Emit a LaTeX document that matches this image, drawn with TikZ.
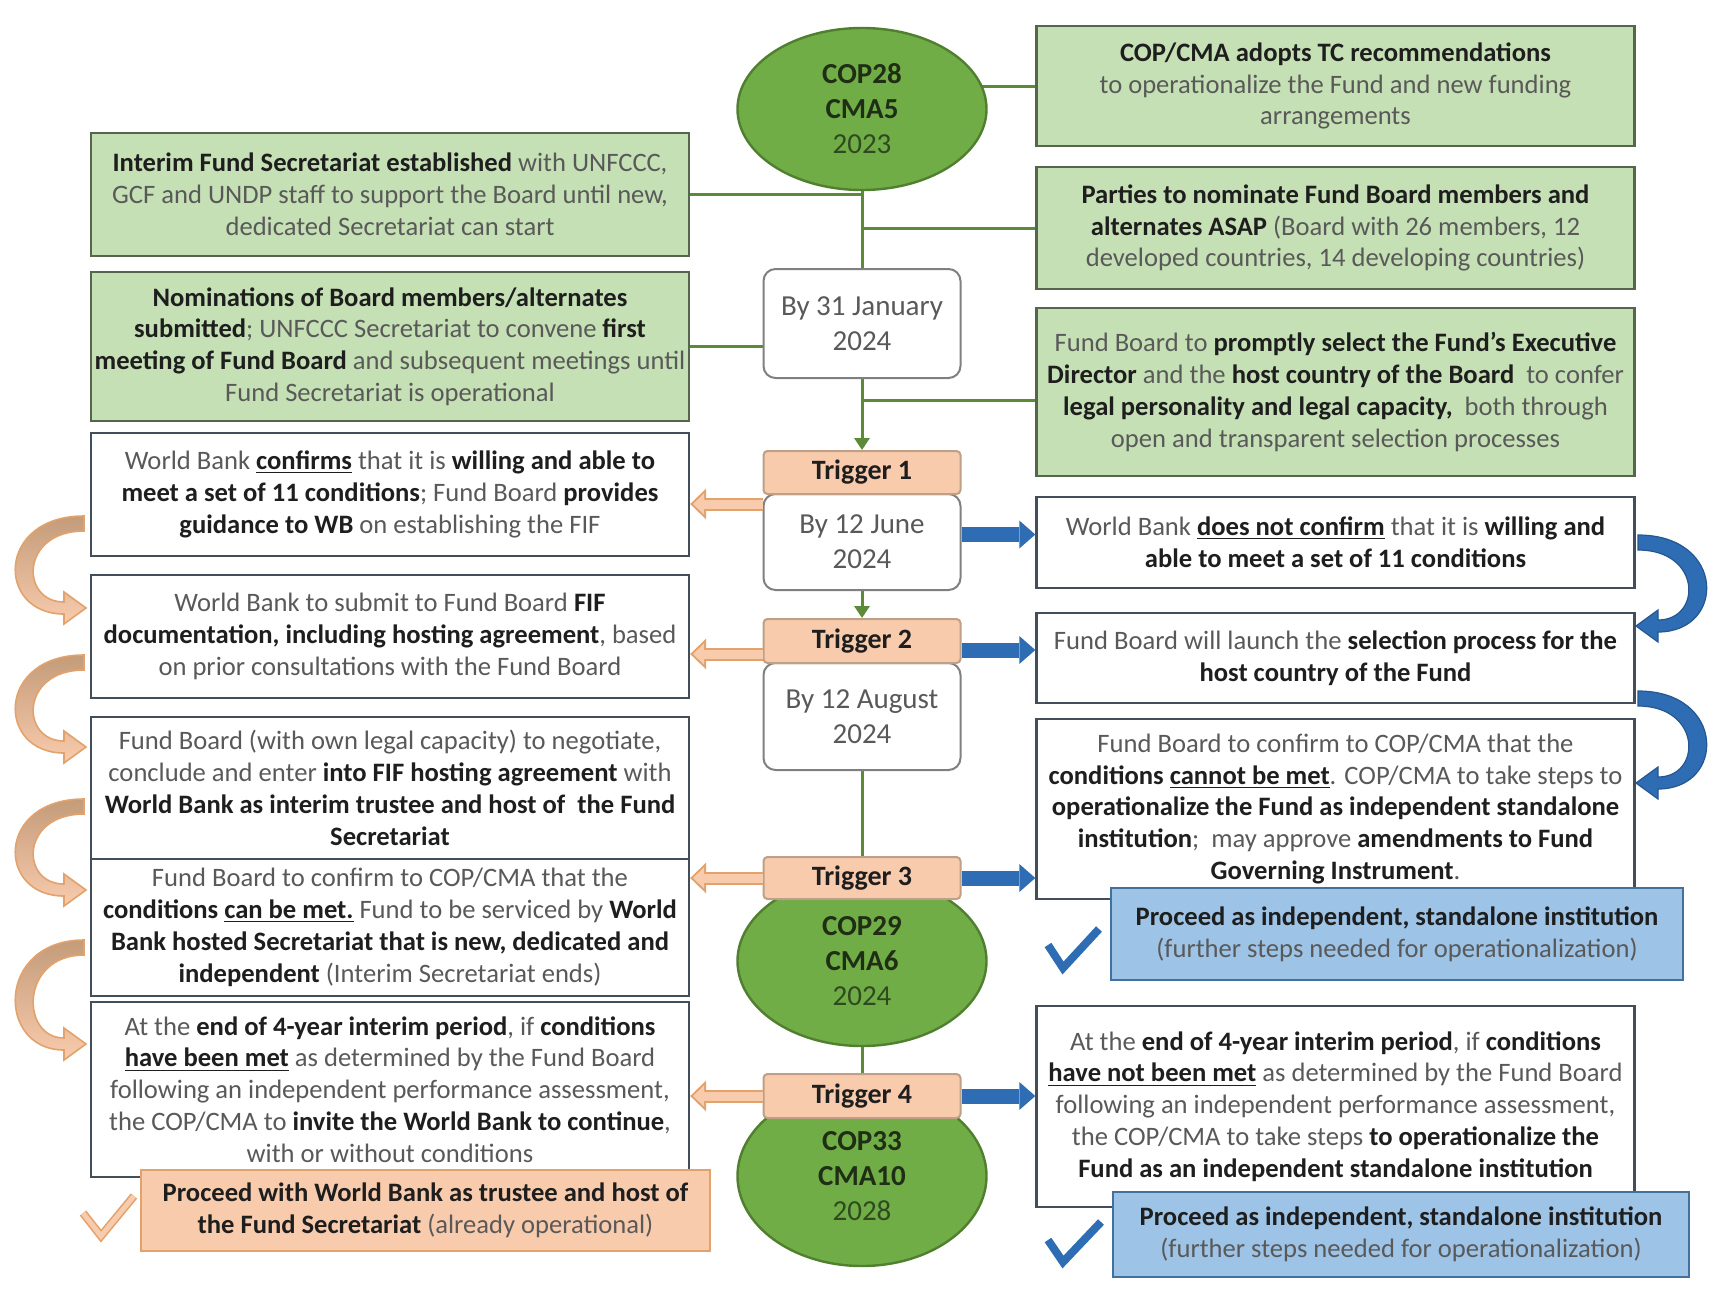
\documentclass[tikz,border=0pt]{standalone}
\usepackage{fontspec}
\setmainfont{Carlito}
\usetikzlibrary{arrows.meta,backgrounds,shapes.geometric,positioning,calc}

\definecolor{lightgreen}{HTML}{C5E0B4}
\definecolor{boxgreen}{HTML}{56664C}
\definecolor{copfill}{HTML}{70AD47}
\definecolor{copline}{HTML}{4F7F2F}
\definecolor{linkgreen}{HTML}{5B8A38}
\definecolor{peach}{HTML}{F8CBAD}
\definecolor{peachline}{HTML}{BF9F86}
\definecolor{orangeline}{HTML}{E2A26C}
\definecolor{tan}{HTML}{C49C7A}
\definecolor{plainline}{HTML}{424E5A}
\definecolor{dateline}{HTML}{808080}
\definecolor{skyblue}{HTML}{9DC3E6}
\definecolor{skyline}{HTML}{41719C}
\definecolor{arrowblue}{HTML}{2E6DB4}
\definecolor{textgray}{HTML}{595959}
\definecolor{textdark}{HTML}{1E1E1E}
\definecolor{copdark}{HTML}{1F2E14}
\definecolor{copyear}{HTML}{2E4A1E}

\newcommand{\bd}[1]{\textbf{\color{textdark}#1}}
% curved ribbon arrow: style, x, y, height, mirror
\newcommand{\bendarrow}[5]{%
  \draw[#1, shift={(#2,#3)}, xscale=#5] (0,0) -- (0,15)
    .. controls (-64,15) and (-64,#4-6) .. (-20,#4-6) -- (-20,#4-16) -- (2,#4)
    -- (-20,#4+16) -- (-20,#4+6) .. controls (-88,#4+6) and (-88,0) .. (0,0) -- cycle;}
\newcommand{\backarrow}[2]{\draw[goleftout] #1 -- #2; \draw[goleftin] #1 -- #2;}

\begin{document}
\begin{tikzpicture}[x=0.5pt,y=-0.5pt,font=\fontsize{13.3}{15.9}\selectfont,text=textgray]
    \tikzstyle{greenbox}=[draw=boxgreen, line width=1.2pt, fill=lightgreen, align=center, minimum width=299pt, inner sep=1pt]
    \tikzstyle{plainbox}=[greenbox, draw=plainline, fill=white]
    \tikzstyle{bluebox}=[greenbox, draw=skyline, fill=skyblue]
    \tikzstyle{peachbox}=[greenbox, draw=orangeline, fill=peach]
    \tikzstyle{datebox}=[draw=dateline, line width=1pt, fill=white, rounded corners=6pt, minimum width=98.5pt, align=center, font=\fontsize{14.5}{17.5}\selectfont]
    \tikzstyle{trigger}=[draw=peachline, line width=1pt, fill=peach, rounded corners=2pt, minimum width=98.5pt, inner sep=1pt, font=\fontsize{14}{15}\selectfont\bfseries, text=textdark]
    \tikzstyle{meeting}=[ellipse, draw=copline, line width=1.2pt, fill=copfill, minimum width=124.5pt, align=center, inner sep=0pt, font=\fontsize{14.5}{17.5}\selectfont, text=copyear]
    \tikzstyle{link}=[draw=linkgreen, line width=1.5pt]
    \tikzstyle{linkarrow}=[link, -{Triangle[length=6pt,width=7.5pt]}]
    \tikzstyle{goright}=[draw=arrowblue, line width=7.5pt, -{Triangle[length=8pt,width=14pt,line width=0pt]}]
    \tikzstyle{goleftout}=[draw=orangeline, line width=6.5pt, -{Triangle[length=8pt,width=15.5pt,line width=0pt]}]
    \tikzstyle{goleftin}=[draw=peach, line width=4.5pt, shorten >=1.45pt, -{Triangle[length=5.5pt,width=10.7pt,line width=0pt]}]
    \tikzstyle{bendtan}=[draw=orangeline, line width=0.8pt, top color=tan, bottom color=peach]
    \tikzstyle{bendblue}=[draw=arrowblue!80!black, line width=0.6pt, fill=arrowblue]
    \tikzstyle{tick}=[draw=arrowblue, line width=4pt]
    \tikzstyle{peachtick}=[draw=orangeline, double=peach, double distance=2.5pt, line width=0.8pt]

    \useasboundingbox (0,0) rectangle (1736,1292);
    \begin{scope}[on background layer]
        \fill[white] (0,0) rectangle (1736,1292);
    \end{scope}

    % first steps, COP28
    \node[greenbox, minimum height=60pt] (r1) at (1335.5,86)
        {\bd{COP/CMA adopts TC recommendations}\\ to operationalize the Fund and new funding\\ arrangements};
    \node[greenbox, minimum height=61pt] (r2) at (1335.5,228)
        {\bd{Parties to nominate Fund Board members and}\\ \bd{alternates ASAP} (Board with 26 members, 12\\ developed countries, 14 developing countries)};
    \node[greenbox, minimum height=84pt] (r3) at (1335.5,392)
        {Fund Board to \bd{promptly select the Fund’s Executive}\\ \bd{Director} and the \bd{host country of the Board}~ to confer\\ \bd{legal personality and legal capacity,}~ both through\\ open and transparent selection processes};
    \node[greenbox, minimum height=61.5pt] (l1) at (390,194.5)
        {\bd{Interim Fund Secretariat established} with UNFCCC,\\ GCF and UNDP staff to support the Board until new,\\ dedicated Secretariat can start};
    \node[greenbox, minimum height=74.5pt] (l2) at (390,346.5)
        {\bd{Nominations of Board members/alternates}\\ \bd{submitted}; UNFCCC Secretariat to convene \bd{first}\\ \bd{meeting of Fund Board} and subsequent meetings until\\ Fund Secretariat is operational};

    \node[meeting, minimum height=81pt] (cop28) at (862,109)
        {\textbf{\color{copdark}COP28}\\ \textbf{\color{copdark}CMA5}\\ 2023};

    % deadlines and triggers
    \node[datebox, minimum height=54.5pt] (by31) at (862,323.5) {By 31 January\\ 2024};
    \node[datebox, minimum height=48pt] (j12) at (862,542) {By 12 June\\ 2024};
    \node[datebox, minimum height=53.5pt] (a12) at (862,716.5) {By 12 August\\ 2024};
    \node[trigger, minimum height=21.5pt] (t1) at (862,472.5) {Trigger 1};
    \node[trigger, minimum height=22pt] (t2) at (862,641) {Trigger 2};

    \node[meeting, minimum height=85pt] (cop29) at (862,961)
        {\textbf{\color{copdark}COP29}\\ \textbf{\color{copdark}CMA6}\\ 2024};
    \node[meeting, minimum height=90pt] (cop33) at (862,1176)
        {\textbf{\color{copdark}COP33}\\ \textbf{\color{copdark}CMA10}\\ 2028};
    \node[trigger, minimum height=21pt] (t3) at (862,878) {Trigger 3};
    \node[trigger, minimum height=22pt] (t4) at (862,1096) {Trigger 4};

    % World Bank path
    \node[plainbox, minimum height=61.5pt] (l3) at (390,494.5)
        {World Bank \bd{\underline{confirms}} that it is \bd{willing and able to}\\ \bd{meet a set of 11 conditions}; Fund Board \bd{provides}\\ \bd{guidance to WB} on establishing the FIF};
    \node[plainbox, minimum height=61.5pt] (l4) at (390,636.5)
        {World Bank to submit to Fund Board \bd{FIF}\\ \bd{documentation, including hosting agreement}, based\\ on prior consultations with the Fund Board};
    \node[plainbox, minimum height=71pt] (l5) at (390,788)
        {Fund Board (with own legal capacity) to negotiate,\\ conclude and enter \bd{into FIF hosting agreement} with\\ \bd{World Bank as interim trustee and host of~ the Fund}\\ \bd{Secretariat}};
    \node[plainbox, minimum height=68.5pt] (l6) at (390,927.5)
        {Fund Board to confirm to COP/CMA that the\\ \bd{conditions \underline{can be met.}} Fund to be serviced by \bd{World}\\ \bd{Bank hosted Secretariat that is new, dedicated and}\\ \bd{independent} (Interim Secretariat ends)};
    \node[plainbox, minimum height=87.5pt] (l7) at (390,1089.5)
        {At the \bd{end of 4-year interim period}, if \bd{conditions}\\ \bd{\underline{have been met}} as determined by the Fund Board\\ following an independent performance assessment,\\ the COP/CMA to \bd{invite the World Bank to continue},\\ with or without conditions};
    \node[peachbox, minimum width=284.5pt, minimum height=40.5pt] (l8) at (425.5,1210.5)
        {\bd{Proceed with World Bank as trustee and host of}\\ \bd{the Fund Secretariat} (already operational)};

    % standalone path
    \node[plainbox, minimum height=45.5pt] (r4) at (1335.5,542.5)
        {World Bank \bd{\underline{does not confirm}} that it is \bd{willing and}\\ \bd{able to meet a set of 11 conditions}};
    \node[plainbox, minimum height=45pt] (r5) at (1335.5,658)
        {Fund Board will launch the \bd{selection process for the}\\ \bd{host country of the Fund}};
    \node[plainbox, minimum height=90pt] (r6) at (1335.5,809)
        {Fund Board to confirm to COP/CMA that the\\ \bd{conditions \underline{cannot be met}}. COP/CMA to take steps to\\ \bd{operationalize the Fund as independent standalone}\\ \bd{institution};~ may approve \bd{amendments to Fund}\\ \bd{Governing Instrument}.};
    \node[bluebox, minimum width=286pt, minimum height=46pt] (r7) at (1397,934)
        {\bd{Proceed as independent, standalone institution}\\ (further steps needed for operationalization)};
    \node[plainbox, minimum height=100.5pt] (r8) at (1335.5,1106.5)
        {At the \bd{end of 4-year interim period}, if \bd{conditions}\\ \bd{\underline{have not been met}} as determined by the Fund Board\\ following an independent performance assessment,\\ the COP/CMA to take steps \bd{to operationalize the}\\ \bd{Fund as an independent standalone institution}};
    \node[bluebox, minimum width=288pt, minimum height=42.5pt] (r9) at (1401,1234.5)
        {\bd{Proceed as independent, standalone institution}\\ (further steps needed for operationalization)};

    % arrows out of the triggers
    \coordinate (o1) at ($(j12.north west)+(0,11)$);
    \coordinate (o2) at ($(t2.west)+(0,13)$);
    \backarrow{(o1)}{(o1 -| l3.east)}
    \backarrow{(o2)}{(o2 -| l4.east)}
    \backarrow{(t3.west)}{(t3.west -| l6.east)}
    \backarrow{(t4.west)}{(t4.west -| l7.east)}

    \coordinate (b1) at ($(r4.west)+(0,-8)$);
    \coordinate (b2) at ($(t2.east)+(0,9)$);
    \draw[goright] (b1 -| j12.east) -- (b1);
    \draw[goright] (b2) -- (b2 -| r5.west);
    \draw[goright] (t3.east) -- (t3.east -| r6.west);
    \draw[goright] (t4.east) -- (t4.east -| r8.west);

    % curved arrows between the steps
    \bendarrow{bendtan}{84}{516}{92}{1}
    \bendarrow{bendtan}{84}{655}{92}{1}
    \bendarrow{bendtan}{84}{799}{91}{1}
    \bendarrow{bendtan}{84}{940}{104}{1}
    \bendarrow{bendblue}{1638}{535}{91}{-1}
    \bendarrow{bendblue}{1638}{691}{92}{-1}

    % ticks
    \draw[tick] (1048,945) -- (1063,968) -- (1099,929);
    \draw[tick] (1048,1240) -- (1063,1262) -- (1101,1222);
    \draw[peachtick] (83,1213) -- (101,1236) -- (134,1196);

    % timeline
    \begin{scope}[on background layer]
        \draw[link] (r1.west -| cop28.center) -- (r1.west);
        \draw[link] (cop28.south) -- (by31.north);
        \draw[link] (l1.east) -- (l1.east -| cop28.south);
        \draw[link] (r2.west -| cop28.south) -- (r2.west);
        \draw[link] (l2.east) -- (l2.east -| by31.west);
        \coordinate (g3) at ($(r3.west)+(0,8)$);
        \draw[link] (g3 -| by31.south) -- (g3);
        \draw[linkarrow] (by31.south) -- (t1.north);
        \draw[linkarrow] (j12.south) -- (t2.north);
        \draw[link] (a12.south) -- (t3.north);
        \draw[link] (cop29.south) -- (t4.north);
    \end{scope}
\end{tikzpicture}
\end{document}
